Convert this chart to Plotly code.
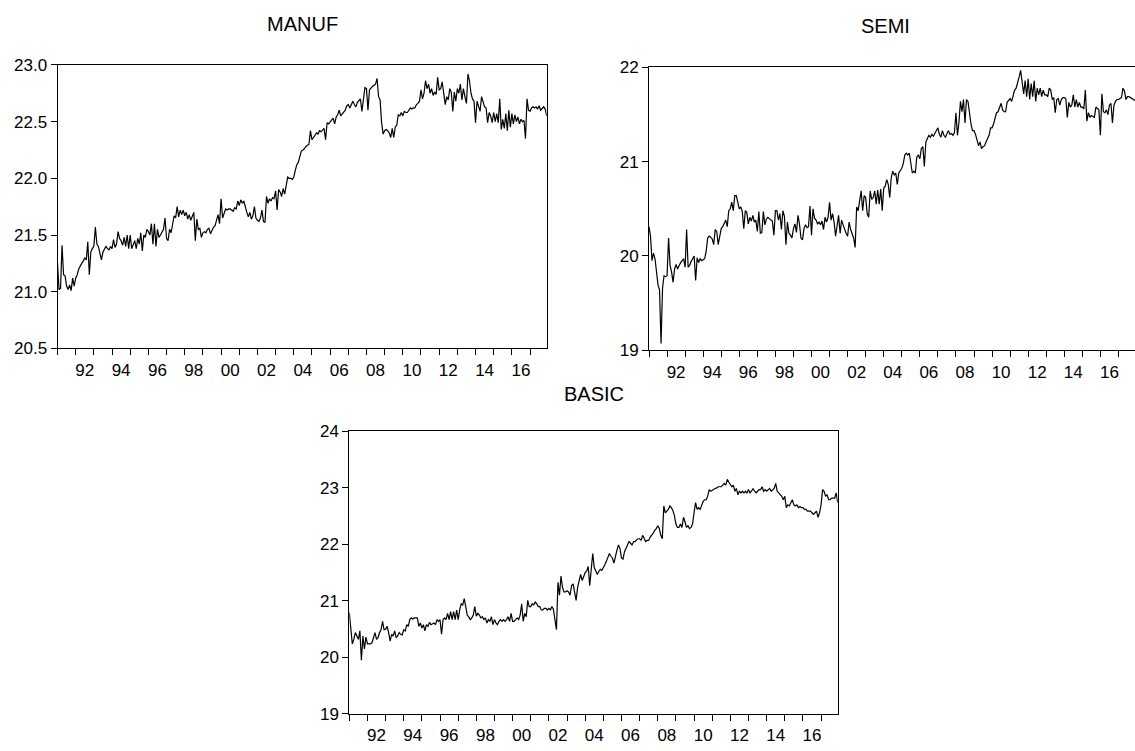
import plotly.graph_objects as go

# ---------------- data (monthly, Jan 1991 - Dec 2017) ----------------
start_year = 1991
end_year = 2017

manuf = [
    21.25, 21.02, 21.03, 21.41, 21.15, 21.14, 21.05, 21.02, 21.06, 21.01, 21.12, 21.05,  # 1991
    21.12, 21.15, 21.20, 21.23, 21.25, 21.27, 21.30, 21.28, 21.44, 21.15, 21.35, 21.38,  # 1992
    21.40, 21.57, 21.42, 21.40, 21.32, 21.28, 21.35, 21.38, 21.40, 21.38, 21.37, 21.40,  # 1993
    21.38, 21.46, 21.39, 21.42, 21.53, 21.47, 21.45, 21.41, 21.48, 21.40, 21.50, 21.38,  # 1994
    21.50, 21.38, 21.41, 21.45, 21.38, 21.47, 21.42, 21.52, 21.36, 21.50, 21.48, 21.55,  # 1995
    21.53, 21.50, 21.60, 21.42, 21.60, 21.40, 21.55, 21.48, 21.50, 21.52, 21.55, 21.65,  # 1996
    21.47, 21.45, 21.55, 21.52, 21.62, 21.67, 21.65, 21.75, 21.66, 21.72, 21.68, 21.72,  # 1997
    21.67, 21.70, 21.64, 21.68, 21.63, 21.66, 21.70, 21.45, 21.64, 21.55, 21.56, 21.48,  # 1998
    21.52, 21.53, 21.52, 21.55, 21.56, 21.51, 21.54, 21.57, 21.58, 21.62, 21.68, 21.60,  # 1999
    21.82, 21.65, 21.70, 21.73, 21.72, 21.73, 21.73, 21.72, 21.71, 21.74, 21.73, 21.80,  # 2000
    21.76, 21.81, 21.78, 21.80, 21.74, 21.70, 21.66, 21.70, 21.64, 21.67, 21.75, 21.65,  # 2001
    21.63, 21.62, 21.65, 21.72, 21.62, 21.61, 21.84, 21.78, 21.82, 21.80, 21.83, 21.82,  # 2002
    21.89, 21.72, 21.90, 21.88, 21.84, 21.91, 21.86, 21.95, 22.01, 22.00, 22.00, 21.99,  # 2003
    22.01, 22.07, 22.12, 22.14, 22.20, 22.24, 22.25, 22.26, 22.28, 22.29, 22.30, 22.42,  # 2004
    22.34, 22.36, 22.38, 22.40, 22.39, 22.42, 22.41, 22.43, 22.44, 22.34, 22.49, 22.48,  # 2005
    22.50, 22.52, 22.53, 22.48, 22.54, 22.56, 22.60, 22.55, 22.57, 22.58, 22.60, 22.64,  # 2006
    22.65, 22.62, 22.66, 22.68, 22.65, 22.63, 22.67, 22.69, 22.70, 22.59, 22.70, 22.80,  # 2007
    22.79, 22.60, 22.78, 22.80, 22.81, 22.82, 22.83, 22.88, 22.72, 22.69, 22.49, 22.39,  # 2008
    22.42, 22.43, 22.42, 22.40, 22.36, 22.44, 22.36, 22.45, 22.47, 22.56, 22.55, 22.58,  # 2009
    22.55, 22.59, 22.58, 22.58, 22.60, 22.62, 22.61, 22.62, 22.62, 22.65, 22.66, 22.68,  # 2010
    22.78, 22.70, 22.75, 22.86, 22.79, 22.83, 22.75, 22.79, 22.73, 22.76, 22.74, 22.89,  # 2011
    22.78, 22.79, 22.85, 22.73, 22.65, 22.72, 22.69, 22.79, 22.76, 22.59, 22.76, 22.68,  # 2012
    22.79, 22.75, 22.83, 22.69, 22.79, 22.72, 22.66, 22.92, 22.86, 22.75, 22.70, 22.68,  # 2013
    22.49, 22.68, 22.63, 22.59, 22.72, 22.66, 22.63, 22.62, 22.49, 22.58, 22.55, 22.49,  # 2014
    22.58, 22.50, 22.57, 22.49, 22.70, 22.43, 22.52, 22.44, 22.57, 22.42, 22.60, 22.45,  # 2015
    22.57, 22.48, 22.56, 22.50, 22.54, 22.48, 22.52, 22.50, 22.51, 22.35, 22.70, 22.60,  # 2016
    22.59, 22.62, 22.63, 22.62, 22.63, 22.61, 22.64, 22.60, 22.62, 22.63, 22.61, 22.55,  # 2017
]

semi = [
    20.31, 20.21, 19.95, 20.03, 19.97, 19.83, 19.69, 19.64, 19.07, 19.66, 19.79, 19.78,  # 1991
    19.79, 20.19, 19.90, 19.83, 19.72, 19.86, 19.91, 19.86, 19.90, 19.93, 19.95, 19.97,  # 1992
    19.88, 20.28, 19.88, 19.90, 19.94, 19.97, 20.00, 19.74, 19.98, 19.93, 19.97, 19.95,  # 1993
    19.96, 19.97, 20.05, 20.19, 20.21, 20.20, 20.18, 20.12, 20.28, 20.26, 20.12, 20.22,  # 1994
    20.29, 20.31, 20.35, 20.38, 20.31, 20.48, 20.50, 20.57, 20.48, 20.64, 20.64, 20.55,  # 1995
    20.50, 20.52, 20.47, 20.29, 20.48, 20.46, 20.34, 20.41, 20.37, 20.43, 20.36, 20.38,  # 1996
    20.26, 20.47, 20.24, 20.25, 20.47, 20.33, 20.39, 20.41, 20.39, 20.38, 20.37, 20.22,  # 1997
    20.48, 20.48, 20.38, 20.45, 20.28, 20.48, 20.42, 20.12, 20.36, 20.24, 20.22, 20.19,  # 1998
    20.29, 20.34, 20.25, 20.43, 20.34, 20.19, 20.17, 20.29, 20.33, 20.30, 20.31, 20.53,  # 1999
    20.22, 20.50, 20.40, 20.38, 20.34, 20.36, 20.33, 20.37, 20.28, 20.41, 20.36, 20.41,  # 2000
    20.57, 20.38, 20.45, 20.36, 20.21, 20.33, 20.43, 20.24, 20.38, 20.33, 20.28, 20.24,  # 2001
    20.21, 20.36, 20.28, 20.22, 20.19, 20.09, 20.52, 20.48, 20.60, 20.69, 20.48, 20.64,  # 2002
    20.62, 20.45, 20.41, 20.69, 20.60, 20.62, 20.69, 20.55, 20.70, 20.55, 20.71, 20.48,  # 2003
    20.72, 20.74, 20.81, 20.76, 20.62, 20.83, 20.90, 20.86, 20.88, 20.76, 20.88, 20.91,  # 2004
    20.93, 20.98, 21.07, 21.09, 21.07, 21.09, 20.97, 20.88, 20.90, 20.88, 21.05, 21.07,  # 2005
    21.03, 21.14, 21.16, 20.95, 21.21, 21.24, 21.28, 21.26, 21.29, 21.27, 21.30, 21.34,  # 2006
    21.36, 21.29, 21.26, 21.33, 21.28, 21.26, 21.30, 21.33, 21.29, 21.30, 21.28, 21.31,  # 2007
    21.52, 21.28, 21.42, 21.64, 21.53, 21.66, 21.41, 21.66, 21.64, 21.48, 21.40, 21.33,  # 2008
    21.33, 21.29, 21.24, 21.17, 21.21, 21.14, 21.16, 21.17, 21.21, 21.24, 21.28, 21.36,  # 2009
    21.36, 21.40, 21.48, 21.52, 21.53, 21.57, 21.62, 21.55, 21.53, 21.53, 21.63, 21.65,  # 2010
    21.67, 21.64, 21.72, 21.76, 21.78, 21.83, 21.90, 21.97, 21.86, 21.72, 21.86, 21.69,  # 2011
    21.88, 21.66, 21.83, 21.69, 21.86, 21.64, 21.78, 21.71, 21.78, 21.69, 21.76, 21.71,  # 2012
    21.71, 21.69, 21.78, 21.76, 21.66, 21.68, 21.52, 21.66, 21.67, 21.60, 21.66, 21.68,  # 2013
    21.68, 21.67, 21.47, 21.63, 21.58, 21.60, 21.71, 21.58, 21.66, 21.58, 21.63, 21.58,  # 2014
    21.58, 21.56, 21.76, 21.43, 21.52, 21.47, 21.49, 21.48, 21.47, 21.58, 21.56, 21.55,  # 2015
    21.28, 21.72, 21.53, 21.52, 21.55, 21.50, 21.60, 21.62, 21.41, 21.60, 21.64, 21.66,  # 2016
    21.66, 21.67, 21.68, 21.78, 21.75, 21.66, 21.69, 21.69, 21.68, 21.67, 21.66, 21.65,  # 2017
]

basic = [
    20.79, 20.55, 20.24, 20.32, 20.44, 20.38, 20.32, 20.47, 19.95, 20.38, 20.15, 20.36,  # 1991
    20.24, 20.24, 20.24, 20.26, 20.35, 20.44, 20.32, 20.35, 20.44, 20.49, 20.64, 20.49,  # 1992
    20.50, 20.55, 20.44, 20.29, 20.41, 20.38, 20.47, 20.35, 20.38, 20.44, 20.41, 20.40,  # 1993
    20.49, 20.47, 20.58, 20.55, 20.67, 20.70, 20.68, 20.70, 20.70, 20.70, 20.55, 20.61,  # 1994
    20.52, 20.58, 20.47, 20.58, 20.55, 20.62, 20.58, 20.60, 20.61, 20.58, 20.67, 20.64,  # 1995
    20.67, 20.41, 20.67, 20.70, 20.67, 20.78, 20.67, 20.81, 20.67, 20.81, 20.67, 20.84,  # 1996
    20.67, 20.84, 20.95, 20.93, 21.04, 20.90, 20.75, 20.72, 20.67, 20.70, 20.75, 20.90,  # 1997
    20.73, 20.78, 20.75, 20.70, 20.72, 20.67, 20.70, 20.61, 20.67, 20.64, 20.72, 20.58,  # 1998
    20.67, 20.61, 20.58, 20.64, 20.67, 20.64, 20.67, 20.64, 20.67, 20.72, 20.64, 20.78,  # 1999
    20.64, 20.64, 20.67, 20.70, 20.67, 20.75, 20.95, 20.64, 20.78, 20.72, 21.01, 20.90,  # 2000
    20.90, 20.95, 20.93, 20.98, 20.95, 20.90, 20.90, 20.84, 20.84, 20.87, 20.87, 20.84,  # 2001
    20.87, 20.84, 20.90, 20.85, 20.67, 20.49, 21.33, 21.10, 21.44, 21.24, 21.16, 21.16,  # 2002
    21.18, 21.16, 21.10, 21.27, 21.30, 21.13, 21.01, 21.24, 21.38, 21.47, 21.36, 21.45,  # 2003
    21.50, 21.53, 21.61, 21.27, 21.61, 21.84, 21.59, 21.53, 21.47, 21.52, 21.56, 21.54,  # 2004
    21.58, 21.64, 21.70, 21.79, 21.84, 21.79, 21.76, 21.67, 21.80, 21.90, 21.99, 21.93,  # 2005
    21.76, 21.74, 21.87, 21.93, 21.99, 22.05, 22.02, 21.99, 22.05, 22.05, 22.08, 22.10,  # 2006
    22.10, 22.07, 22.16, 22.10, 22.05, 22.07, 22.07, 22.13, 22.16, 22.20, 22.25, 22.28,  # 2007
    22.33, 22.28, 22.16, 22.10, 22.68, 22.56, 22.59, 22.62, 22.68, 22.65, 22.60, 22.51,  # 2008
    22.36, 22.30, 22.30, 22.36, 22.30, 22.48, 22.40, 22.30, 22.33, 22.28, 22.30, 22.36,  # 2009
    22.56, 22.74, 22.62, 22.65, 22.62, 22.70, 22.76, 22.79, 22.79, 22.85, 22.97, 22.94,  # 2010
    22.96, 22.97, 22.99, 23.00, 23.02, 23.02, 23.02, 23.05, 23.08, 23.05, 23.15, 23.10,  # 2011
    23.05, 23.02, 23.05, 22.94, 22.99, 22.88, 22.94, 22.91, 22.94, 22.91, 22.94, 22.91,  # 2012
    22.97, 22.91, 22.94, 22.99, 22.94, 22.91, 22.94, 22.97, 22.97, 23.02, 22.94, 22.97,  # 2013
    22.94, 22.97, 22.99, 22.94, 22.97, 22.99, 23.08, 22.94, 22.91, 22.88, 22.85, 22.79,  # 2014
    22.85, 22.65, 22.70, 22.68, 22.74, 22.79, 22.70, 22.68, 22.70, 22.65, 22.67, 22.65,  # 2015
    22.65, 22.62, 22.62, 22.59, 22.59, 22.59, 22.56, 22.53, 22.56, 22.59, 22.48, 22.56,  # 2016
    22.70, 22.97, 22.94, 22.85, 22.88, 22.79, 22.79, 22.82, 22.82, 22.82, 22.91, 22.74,  # 2017
]

titles = ["MANUF", "SEMI", "BASIC"]
label_years = list(range(1992, 2017, 2))
tick_labels = [f"{y % 100:02d}" for y in label_years]

# time axis: decimal years, one observation per month
t = [start_year + i / 12 for i in range(len(manuf))]

# ---------------- figure ----------------
W, H = 1135, 751
FONT = "Liberation Sans, Arial, sans-serif"


def px_x(v):
    return v / W


def px_y(v):
    return 1 - v / H


panels = [
    # (series, x-domain px, y-domain px (top, bottom), y range, y ticks, y format, mirror y)
    (manuf, (57.5, 546.7), (57.3, 348.3), (20.5, 23.0), [20.5, 21.0, 21.5, 22.0, 22.5, 23.0], ".1f", True),
    (semi, (649.0, 1135.0), (60.0, 350.0), (19, 22), [19, 20, 21, 22], "d", False),
    (basic, (349.3, 837.7), (433.3, 723.3), (19, 24), [19, 20, 21, 22, 23, 24], "d", True),
]

fig = go.Figure()
layout = {}
for k, (series, (x0, x1), (yt, yb), yr, yt_vals, yfmt, ymirror) in enumerate(panels, start=1):
    sfx = "" if k == 1 else str(k)
    fig.add_trace(go.Scatter(
        x=t, y=series, mode="lines",
        line=dict(color="black", width=1.2),
        xaxis="x" + sfx, yaxis="y" + sfx, showlegend=False, hoverinfo="skip",
    ))
    layout["xaxis" + sfx] = dict(
        domain=[px_x(x0), px_x(x1)], anchor="y" + sfx,
        range=[start_year, end_year + 11 / 12],
        tickmode="array", tickvals=[y + 0.5 for y in label_years], ticktext=tick_labels,
        ticks="outside", ticklen=6, tickcolor="rgba(0,0,0,0)",
        minor=dict(tickmode="array", tickvals=list(range(start_year, end_year + 1)),
                   ticks="outside", ticklen=6, tickwidth=1, tickcolor="black", showgrid=False),
        showline=True, linecolor="black", linewidth=1, mirror=True,
        showgrid=False, zeroline=False, fixedrange=True,
        tickfont=dict(family=FONT, size=17, color="black"),
    )
    layout["yaxis" + sfx] = dict(
        domain=[px_y(yb), px_y(yt)], anchor="x" + sfx,
        range=list(yr), tickmode="array", tickvals=yt_vals, tickformat=yfmt,
        ticks="outside", ticklen=6, tickwidth=1, tickcolor="black",
        showline=True, linecolor="black", linewidth=1, mirror=ymirror,
        showgrid=False, zeroline=False, fixedrange=True,
        tickfont=dict(family=FONT, size=17, color="black"),
    )

annotations = []
title_pos = [(302.0, 15.0), (885.0, 17.0), (593.5, 395.0)]
for txt, (cx, cy) in zip(titles, title_pos):
    annotations.append(dict(
        text=txt, x=px_x(cx), y=px_y(cy), xref="paper", yref="paper",
        xanchor="center", yanchor="middle", showarrow=False,
        font=dict(family=FONT, size=20, color="black"),
    ))

fig.update_layout(
    width=W, height=H, margin=dict(l=0, r=0, t=0, b=0),
    paper_bgcolor="white", plot_bgcolor="white",
    annotations=annotations, **layout,
)

fig.write_html("out.html", config={"displayModeBar": False})
